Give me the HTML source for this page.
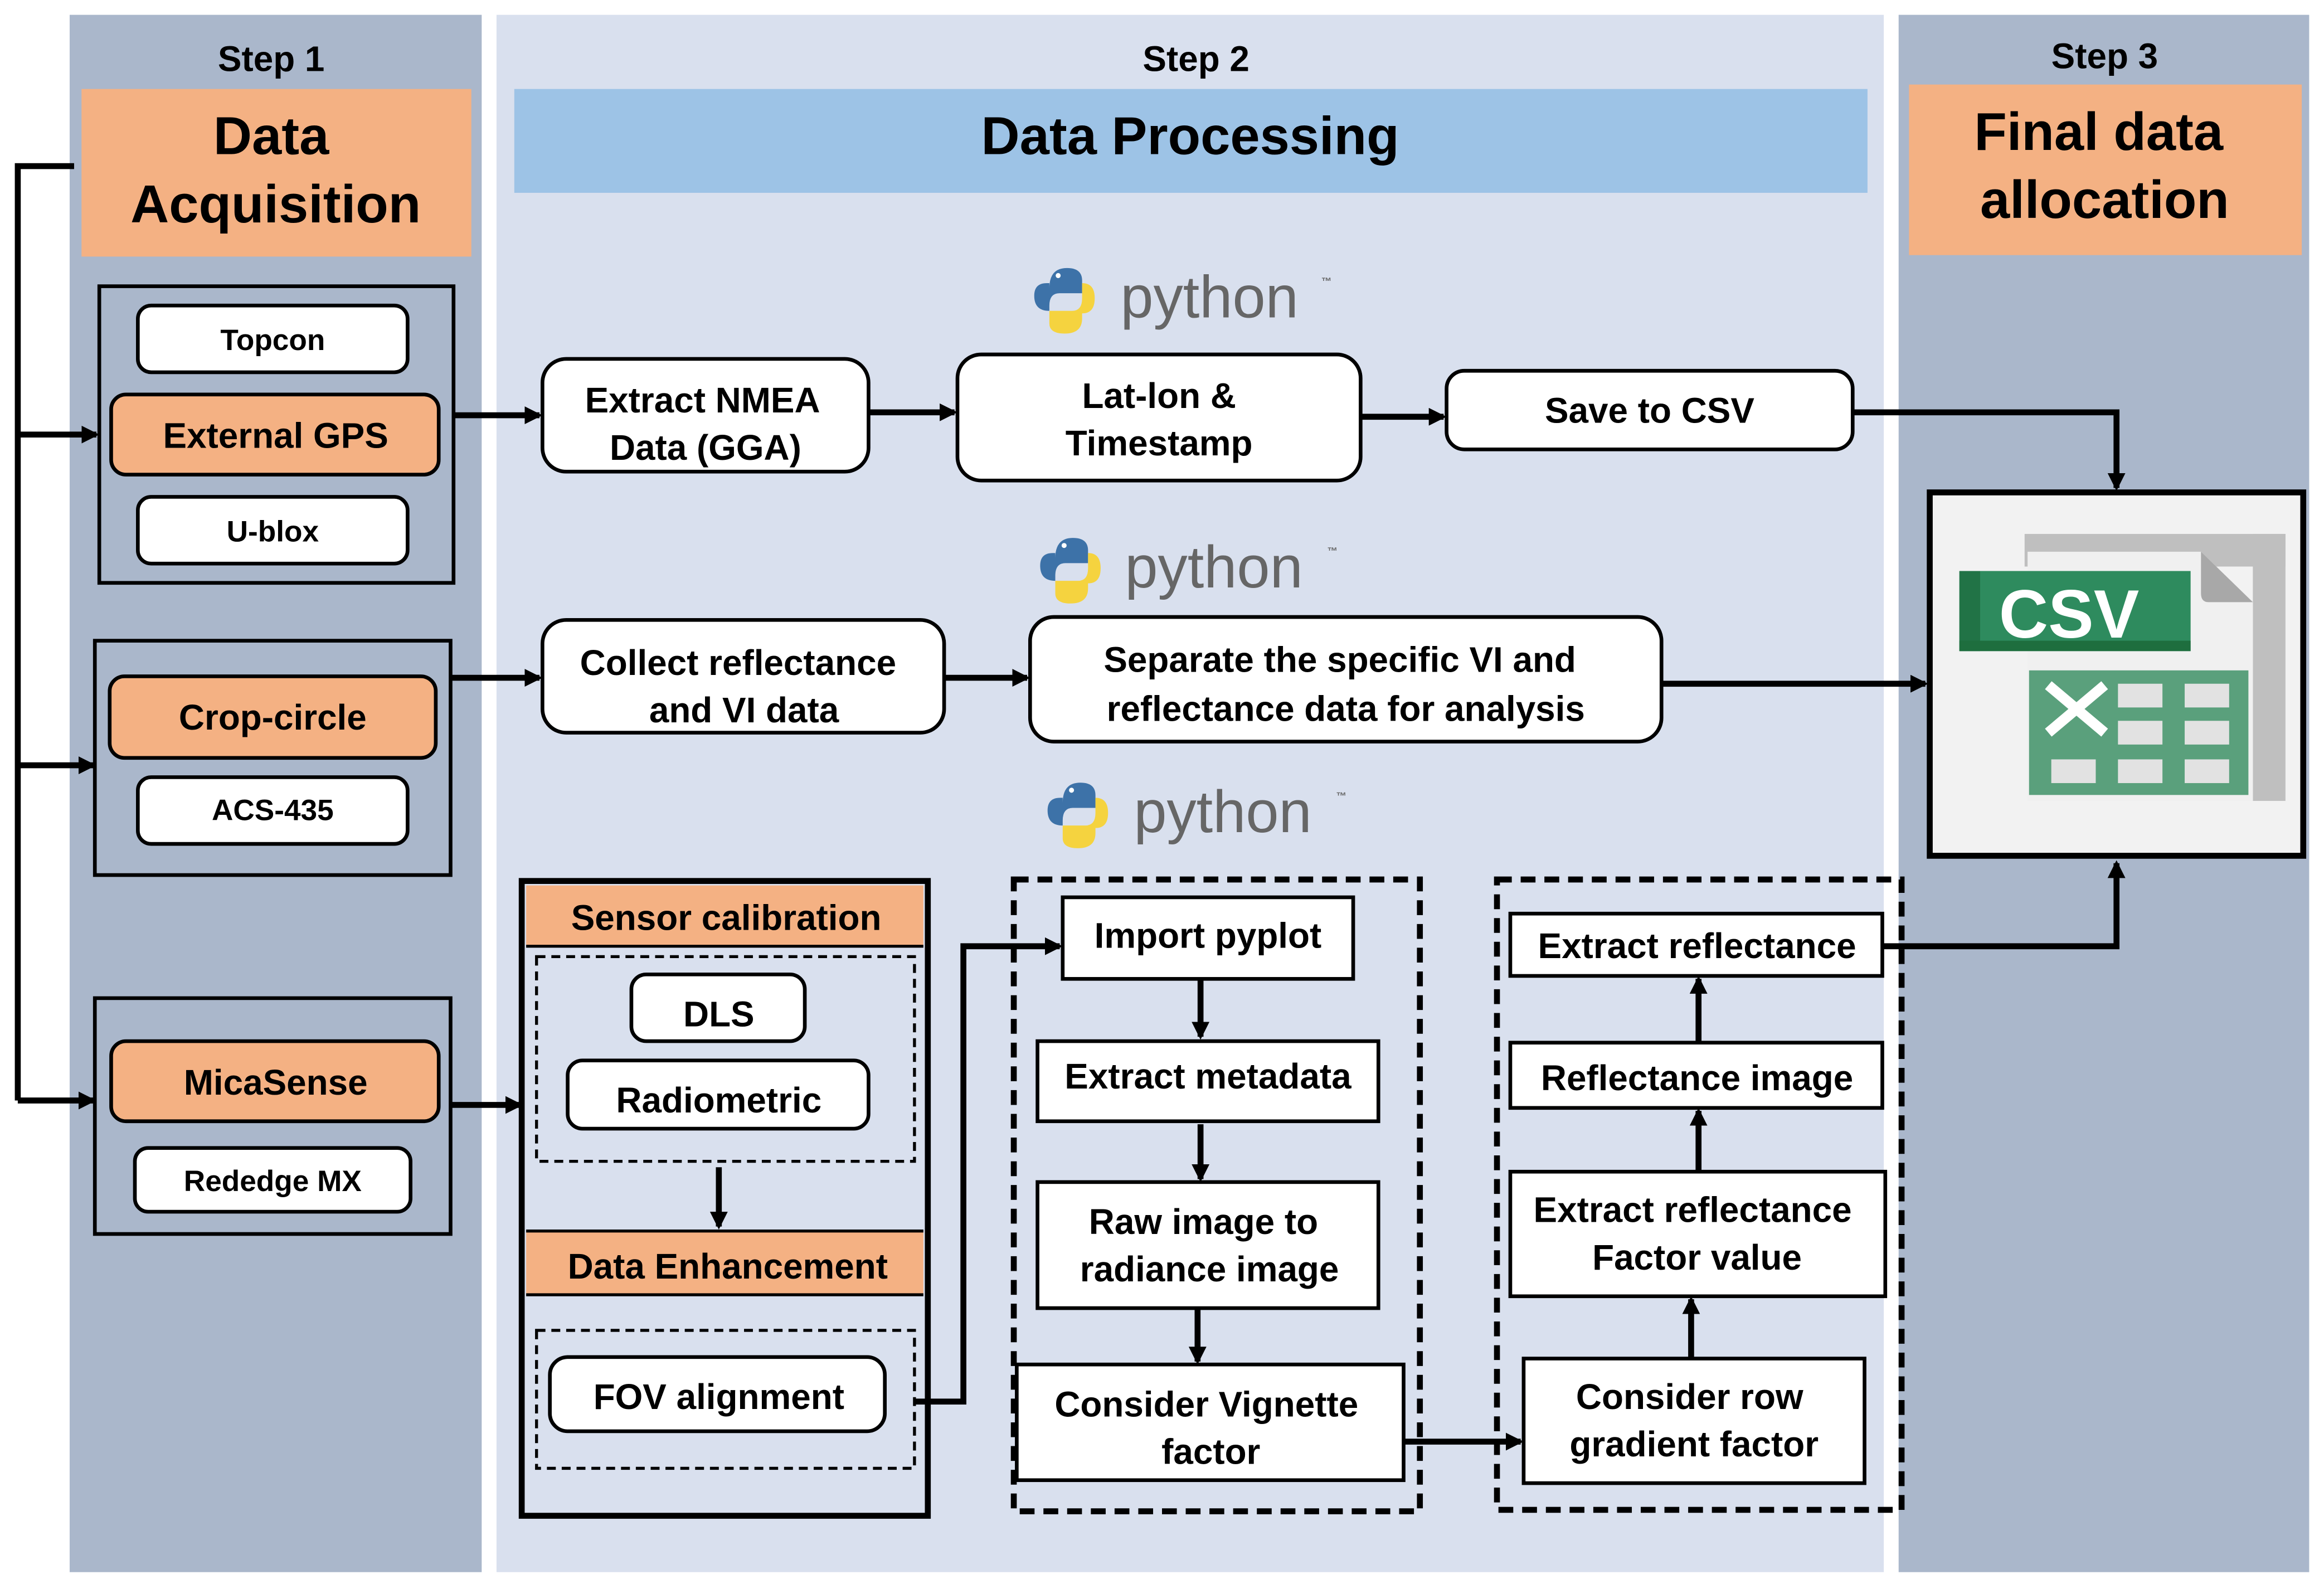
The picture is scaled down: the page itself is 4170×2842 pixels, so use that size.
<!DOCTYPE html>
<html><head><meta charset="utf-8"><style>
html,body{margin:0;padding:0;background:#fff;}
svg{display:block;}
text{font-family:"Liberation Sans",Arial,sans-serif;font-weight:bold;fill:#000;text-anchor:middle;}
</style></head><body>
<svg width="4170" height="2842" viewBox="0 0 1568 1068" preserveAspectRatio="none" xmlns="http://www.w3.org/2000/svg">
<defs>
<marker id="ah" markerWidth="12" markerHeight="12" refX="10" refY="6" orient="auto" markerUnits="userSpaceOnUse" viewBox="0 0 12 12">
<path d="M0,0 L12,6 L0,12 z" fill="#000"/></marker>
<g id="py">
<path d="M0,-2 Q0,-18 14,-18 Q26,-18 26,-8 L26,2 L8,2 Q0,2 0,12 L0,16 Q-12,16 -12,4 Q-12,-6 -2,-6 L0,-6 z" fill="#3d72a8"/>
<circle cx="7" cy="-12" r="2" fill="#fff"/>
<path d="M26,-6 Q36,-6 36,6 Q36,18 26,18 L26,22 Q26,34 12,34 Q0,34 0,26 L0,16 L18,16 Q26,16 26,6 z" fill="#f5d33f"/>
</g>
</defs>
<rect width="1568" height="1068" fill="#fff"/>
<rect x="47" y="10" width="278" height="1050" fill="#aab7cb"/>
<rect x="335" y="10" width="936" height="1050" fill="#d9e0ee"/>
<rect x="1281" y="10" width="277" height="1050" fill="#aab7cb"/>
<text x="183" y="48" font-size="24">Step 1</text>
<text x="807" y="48" font-size="24">Step 2</text>
<text x="1420" y="46" font-size="24">Step 3</text>
<rect x="55" y="60" width="263" height="113" fill="#f4b183"/>
<text x="183" y="104" font-size="36">Data</text>
<text x="186" y="150" font-size="36">Acquisition</text>
<rect x="347" y="60" width="913" height="70" fill="#9dc3e6"/>
<text x="803" y="104" font-size="36">Data Processing</text>
<rect x="1288" y="57" width="265" height="115" fill="#f4b183"/>
<text x="1416" y="101" font-size="36">Final data</text>
<text x="1420" y="147" font-size="36">allocation</text>

<g stroke="#000" stroke-width="4" fill="none">
<polyline points="50,112 12,112 12,742"/>
<line x1="12" y1="293" x2="65" y2="293" marker-end="url(#ah)"/>
<line x1="12" y1="516" x2="63" y2="516" marker-end="url(#ah)"/>
<line x1="12" y1="742" x2="63" y2="742" marker-end="url(#ah)"/>
</g>

<g stroke="#000" stroke-width="2.5">
<rect x="67" y="193" width="239" height="200" fill="#aab7cb"/>
<rect x="93" y="206" width="182" height="45" rx="9" fill="#fff"/>
<rect x="75" y="266" width="221" height="54" rx="10" fill="#f4b183"/>
<rect x="93" y="335" width="182" height="45" rx="9" fill="#fff"/>
<rect x="64" y="432" width="240" height="158" fill="#aab7cb"/>
<rect x="74" y="456" width="220" height="55" rx="10" fill="#f4b183"/>
<rect x="93" y="524" width="182" height="45" rx="9" fill="#fff"/>
<rect x="64" y="673" width="240" height="159" fill="#aab7cb"/>
<rect x="75" y="702" width="221" height="54" rx="10" fill="#f4b183"/>
<rect x="91" y="774" width="186" height="43" rx="9" fill="#fff"/>
</g>
<text x="184" y="236" font-size="20">Topcon</text>
<text x="186" y="302" font-size="24">External GPS</text>
<text x="184" y="365" font-size="20">U-blox</text>
<text x="184" y="492" font-size="24">Crop-circle</text>
<text x="184" y="553" font-size="20">ACS-435</text>
<text x="186" y="738" font-size="24">MicaSense</text>
<text x="184" y="803" font-size="20">Rededge MX</text>

<g transform="translate(708,196) scale(0.85)"><use href="#py"/></g>
<text x="816" y="214" font-size="40" style="font-weight:normal;fill:#666">python</text>
<text x="895" y="192" font-size="7" style="fill:#666">™</text>
<g transform="translate(712,378) scale(0.85)"><use href="#py"/></g>
<text x="819" y="396" font-size="40" style="font-weight:normal;fill:#666">python</text>
<text x="899" y="374" font-size="7" style="fill:#666">™</text>
<g transform="translate(717,543) scale(0.85)"><use href="#py"/></g>
<text x="825" y="561" font-size="40" style="font-weight:normal;fill:#666">python</text>
<text x="905" y="539" font-size="7" style="fill:#666">™</text>

<g stroke="#000" stroke-width="2.5" fill="#fff">
<rect x="366" y="242" width="220" height="76" rx="16"/>
<rect x="646" y="239" width="272" height="85" rx="16"/>
<rect x="976" y="250" width="274" height="53" rx="12"/>
<rect x="366" y="418" width="271" height="76" rx="16"/>
<rect x="695" y="416" width="426" height="84" rx="16"/>
</g>
<text x="474" y="278" font-size="24">Extract NMEA</text>
<text x="476" y="310" font-size="24">Data (GGA)</text>
<text x="782" y="275" font-size="24">Lat-lon &amp;</text>
<text x="782" y="307" font-size="24">Timestamp</text>
<text x="1113" y="285" font-size="24">Save to CSV</text>
<text x="498" y="455" font-size="24">Collect reflectance</text>
<text x="502" y="487" font-size="24">and VI data</text>
<text x="904" y="453" font-size="24">Separate the specific VI and</text>
<text x="908" y="486" font-size="24">reflectance data for analysis</text>

<g stroke="#000" stroke-width="4" fill="none">
<line x1="306" y1="280" x2="364" y2="280" marker-end="url(#ah)"/>
<line x1="586" y1="278" x2="644" y2="278" marker-end="url(#ah)"/>
<line x1="918" y1="281" x2="974" y2="281" marker-end="url(#ah)"/>
<polyline points="1250,278 1428,278 1428,329" marker-end="url(#ah)"/>
<line x1="304" y1="457" x2="364" y2="457" marker-end="url(#ah)"/>
<line x1="637" y1="457" x2="693" y2="457" marker-end="url(#ah)"/>
<line x1="1121" y1="461" x2="1299" y2="461" marker-end="url(#ah)"/>
<line x1="304" y1="745" x2="351" y2="745" marker-end="url(#ah)"/>
<polyline points="1270,638 1428,638 1428,582" marker-end="url(#ah)"/>
</g>

<rect x="1302" y="332" width="252" height="245" fill="#f2f2f2" stroke="#000" stroke-width="4"/>
<rect x="1366" y="360" width="176" height="22" fill="#bfbfbf"/>
<rect x="1520" y="360" width="22" height="180" fill="#bfbfbf"/>
<path d="M1368,372 L1485,372 L1520,406 L1520,540 L1368,540 z" fill="#f0f0f0"/>
<path d="M1485,372 L1520,406 L1490,406 Q1485,406 1485,400 z" fill="#a8a8a8"/>
<rect x="1322" y="385" width="156" height="54" fill="#2e8b5e"/>
<rect x="1322" y="385" width="14" height="54" fill="#217346"/>
<rect x="1322" y="432" width="156" height="7" fill="#1e6e3e"/>
<text x="1396" y="430" font-size="46" style="fill:#fff;font-weight:bold">CSV</text>
<rect x="1369" y="452" width="148" height="84" fill="#5aa07c"/>
<path d="M1382,462 L1420,494 M1420,462 L1382,494" stroke="#fff" stroke-width="7"/>
<g fill="#e2e2e2">
<rect x="1429" y="461" width="30" height="16"/><rect x="1474" y="461" width="30" height="16"/>
<rect x="1429" y="486" width="30" height="16"/><rect x="1474" y="486" width="30" height="16"/>
<rect x="1384" y="512" width="30" height="16"/><rect x="1429" y="512" width="30" height="16"/><rect x="1474" y="512" width="30" height="16"/>
</g>

<rect x="352" y="594" width="274" height="428" fill="none" stroke="#000" stroke-width="4"/>
<rect x="355" y="597" width="268" height="41" fill="#f4b183"/>
<line x1="355" y1="638" x2="623" y2="638" stroke="#000" stroke-width="2"/>
<text x="490" y="627" font-size="24">Sensor calibration</text>
<rect x="362" y="645" width="255" height="138" fill="none" stroke="#000" stroke-width="2" stroke-dasharray="6,4"/>
<g stroke="#000" stroke-width="2.5" fill="#fff">
<rect x="426" y="657" width="117" height="45" rx="10"/>
<rect x="383" y="715" width="203" height="46" rx="10"/>
<rect x="371" y="915" width="226" height="50" rx="12"/>
</g>
<text x="485" y="692" font-size="24">DLS</text>
<text x="485" y="750" font-size="24">Radiometric</text>
<line x1="485" y1="787" x2="485" y2="827" stroke="#000" stroke-width="4" marker-end="url(#ah)"/>
<rect x="355" y="830" width="268" height="43" fill="#f4b183"/>
<line x1="355" y1="830" x2="623" y2="830" stroke="#000" stroke-width="2"/>
<line x1="355" y1="873" x2="623" y2="873" stroke="#000" stroke-width="2"/>
<text x="491" y="862" font-size="24">Data Enhancement</text>
<rect x="362" y="897" width="255" height="93" fill="none" stroke="#000" stroke-width="2" stroke-dasharray="6,4"/>
<text x="485" y="950" font-size="24">FOV alignment</text>
<polyline points="617,945 650,945 650,638 715,638" fill="none" stroke="#000" stroke-width="4" marker-end="url(#ah)"/>

<rect x="684" y="593" width="274" height="426" fill="none" stroke="#000" stroke-width="4" stroke-dasharray="10,6"/>
<g stroke="#000" stroke-width="2.5" fill="#fff">
<rect x="717" y="605" width="196" height="55"/>
<rect x="700" y="702" width="230" height="54"/>
<rect x="700" y="797" width="230" height="85"/>
<rect x="686" y="920" width="261" height="78"/>
</g>
<text x="815" y="639" font-size="24">Import pyplot</text>
<text x="815" y="734" font-size="24">Extract metadata</text>
<text x="812" y="832" font-size="24">Raw image to</text>
<text x="816" y="864" font-size="24">radiance image</text>
<text x="814" y="955" font-size="24">Consider Vignette</text>
<text x="817" y="987" font-size="24">factor</text>
<g stroke="#000" stroke-width="4">
<line x1="810" y1="660" x2="810" y2="699" marker-end="url(#ah)"/>
<line x1="810" y1="758" x2="810" y2="795" marker-end="url(#ah)"/>
<line x1="808" y1="882" x2="808" y2="918" marker-end="url(#ah)"/>
<line x1="947" y1="972" x2="1026" y2="972" marker-end="url(#ah)"/>
</g>

<rect x="1010" y="593" width="273" height="425" fill="none" stroke="#000" stroke-width="4" stroke-dasharray="10,6"/>
<g stroke="#000" stroke-width="2.5" fill="#fff">
<rect x="1019" y="616" width="251" height="42"/>
<rect x="1019" y="703" width="251" height="44"/>
<rect x="1019" y="790" width="253" height="84"/>
<rect x="1028" y="916" width="230" height="84"/>
</g>
<text x="1145" y="646" font-size="24">Extract reflectance</text>
<text x="1145" y="735" font-size="24">Reflectance image</text>
<text x="1142" y="824" font-size="24">Extract reflectance</text>
<text x="1145" y="856" font-size="24">Factor value</text>
<text x="1140" y="950" font-size="24">Consider row</text>
<text x="1143" y="982" font-size="24">gradient factor</text>
<g stroke="#000" stroke-width="4">
<line x1="1141" y1="916" x2="1141" y2="876" marker-end="url(#ah)"/>
<line x1="1146" y1="790" x2="1146" y2="749" marker-end="url(#ah)"/>
<line x1="1146" y1="703" x2="1146" y2="660" marker-end="url(#ah)"/>
</g>
</svg>
</body></html>
